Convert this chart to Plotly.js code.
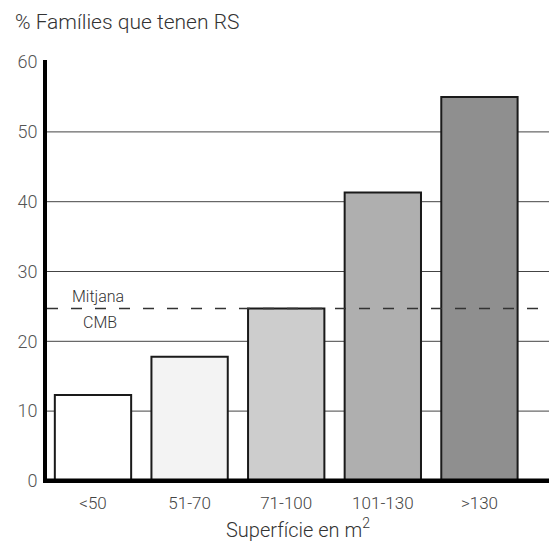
<!DOCTYPE html>
<html>
<head>
<meta charset="utf-8">
<script src="https://cdn.plot.ly/plotly-3.0.1.min.js"></script>
<style>html,body{margin:0;padding:0;background:#fff;}#chart{width:549px;height:549px;}</style>
</head>
<body>
<div id="chart"></div>
<script>
const categories = ["<50", "51-70", "71-100", "101-130", ">130"];
const values = [12.3, 17.8, 24.7, 41.3, 55.0];
const barColors = ["#ffffff", "#f3f3f3", "#cdcdcd", "#afafaf", "#8f8f8f"];
const meanCMB = 24.7;
const gridVals = [10, 20, 30, 40, 50];
const yTicks = [0, 10, 20, 30, 40, 50, 60];

const FONT = "Roboto, 'Liberation Sans', sans-serif";

const shapes = gridVals.map(v => ({
  type: "line", xref: "paper", yref: "y", x0: 0, x1: 1, y0: v, y1: v,
  layer: "below", line: {color: "#444", width: 1}
}));
shapes.push({
  type: "line", xref: "paper", yref: "y", x0: 0, x1: 1, y0: meanCMB, y1: meanCMB,
  layer: "above", line: {color: "#333", width: 1.5, dash: "11px,13px"}
});
shapes.push({
  type: "line", xref: "paper", yref: "y", x0: -0.006, x1: 1, y0: 0, y1: 0,
  layer: "above", line: {color: "#000", width: 5}
});

const trace = {
  type: "bar",
  x: categories.map((c, i) => i),
  y: values,
  marker: {color: barColors, line: {color: "#1a1a1a", width: 2}},
  hoverinfo: "skip"
};

const layout = {
  width: 549, height: 549,
  margin: {l: 47, r: 0, t: 60, b: 66},
  paper_bgcolor: "#fff", plot_bgcolor: "#fff",
  showlegend: false,
  bargap: 0.21,
  font: {family: FONT, color: "#444", size: 17, weight: 300},
  xaxis: {
    range: [-0.476, 4.72],
    tickvals: categories.map((c, i) => i),
    ticktext: categories,
    showgrid: false, zeroline: false, showline: false,
    ticks: "", ticklabelstandoff: 8,
    tickfont: {family: FONT, size: 17, color: "#444", weight: 300},
    title: {text: "Superfície en m<sup>2</sup>", font: {family: FONT, size: 20, color: "#333", weight: 300}, standoff: 10}
  },
  yaxis: {
    range: [-0.3, 60.3],
    tickvals: yTicks,
    showgrid: false, zeroline: false,
    showline: true, linecolor: "#000", linewidth: 4,
    ticks: "", ticklabelstandoff: 2,
    tickfont: {family: FONT, size: 18, color: "#555", weight: 300}
  },
  shapes: shapes,
  annotations: [
    {xref: "paper", yref: "paper", x: -0.068, y: 1.0898, xanchor: "left", yanchor: "middle",
     text: "% Famílies que tenen RS", showarrow: false,
     font: {family: FONT, size: 21, color: "#333", weight: 300}},
    {xref: "x", yref: "y", x: 0.05, y: meanCMB, yanchor: "bottom", yshift: 1,
     text: "Mitjana", showarrow: false, font: {family: FONT, size: 16, color: "#333", weight: 300}},
    {xref: "x", yref: "y", x: 0.07, y: meanCMB, yanchor: "top", yshift: -2,
     text: "CMB", showarrow: false, font: {family: FONT, size: 16, color: "#333", weight: 300}}
  ]
};

Plotly.newPlot("chart", [trace], layout, {displayModeBar: false, staticPlot: true});
</script>
</body>
</html>
